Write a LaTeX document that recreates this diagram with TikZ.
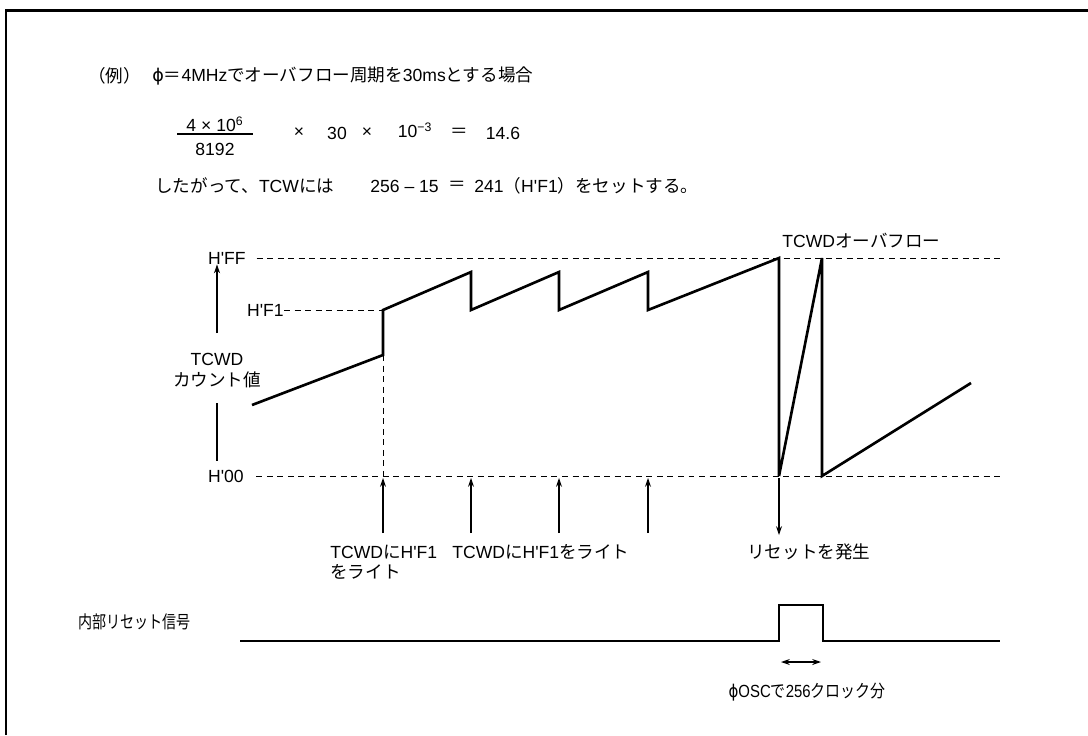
\documentclass[tikz,border=0pt]{standalone}
\usepackage{fontspec}
\usepackage{graphicx}
\setmainfont{Liberation Sans}[Ligatures=TeXOff]
\newfontfamily\jp{Noto Sans CJK JP}
\newfontfamily\dv{DejaVu Sans}
\usetikzlibrary{arrows.meta}

\tikzset{
  lbl/.style={inner sep=0pt,font=\fontsize{10}{12}\selectfont},
  guide/.style={line width=0.5pt,dash pattern=on 3.4pt off 2.6pt},
  wave/.style={line width=1.5pt,line join=miter},
  pin/.style={line width=0.6pt,-{Stealth[length=5pt,width=3.4pt]}},
}
\newcommand{\phisym}{{\dv ϕ}}

\begin{document}
\begin{tikzpicture}[x=0.02cm,y=-0.02cm]
\useasboundingbox (0,0) rectangle (1088,735);
\draw[line width=1.7pt] (6,735) -- (6,10) -- (1088,10);

\node[lbl,anchor=west] (ex) at (88,76) {\jp （例）};
\node[lbl,anchor=west] (cond) at (152,76) {\phisym{\jp ＝}4MHz{\jp でオーバフロー周期を}30ms{\jp とする場合}};
\node[lbl] (num) at (215,124) {4 × 10\textsuperscript{6}};
\node[lbl] (den) at (215,149) {8192};
\draw[line width=0.6pt] (177,134) -- (253,134);
\node[lbl] (mul1) at (299,133) {×};
\node[lbl] (thirty) at (337,133) {30};
\node[lbl] (mul2) at (367,133) {×};
\node[lbl] (milli) at (415,130) {10\textsuperscript{−3}};
\node[lbl] (eq1) at (459,133) {\jp ＝};
\node[lbl] (res) at (503,133) {14.6};
\node[lbl,anchor=west] (so) at (155,186) {{\jp したがって、}TCW{\jp には}};
\node[lbl,anchor=west] (diff) at (370,186) {256 – 15};
\node[lbl] (eq2) at (457,186) {\jp ＝};
\node[lbl,anchor=west] (set) at (474,186) {241{\jp （}H'F1{\jp ）をセットする。}};

\node[lbl,anchor=east] (ff) at (246,258) {H'FF};
\node[lbl,anchor=east] (zz) at (244,476) {H'00};
\node[lbl,anchor=east] (f1) at (284,310) {H'F1};
\coordinate (ffend) at (1003,258);
\coordinate (zzend) at (1003,476);
\coordinate (f1end) at (383,310);
\draw[guide] ([xshift=6pt]ff.east) -- (ffend);
\draw[guide] ([xshift=7pt]zz.east) -- (zzend);
\draw[guide] (f1.east) -- (f1end);
\draw[guide] (383,355) -- (383,476);

\node[lbl,align=center] (axis) at (217,371) {TCWD\\{\jp カウント値}};
\coordinate (axtop) at (217,333);
\coordinate (axbot) at (217,403);
\draw[pin] (axtop) -- (axtop |- ff.south);
\draw[line width=0.6pt] (axbot) -- (217,461);

\draw[wave] (252,405) -- (383,355) -- (383,310) -- (471,272) -- (471,310) -- (559,272) -- (559,310) -- (648,272) -- (648,310) -- (779,258) -- (779,476) -- (822,258) -- (822,476) -- (971,383);
\node[lbl,anchor=west] (ovf) at (782,241) {TCWD{\jp オーバフロー}};

\draw[pin] (383,533) -- (383,478);
\draw[pin] (471,533) -- (471,478);
\draw[pin] (559,533) -- (559,478);
\draw[pin] (648,533) -- (648,478);
\node[lbl,anchor=west] (w1a) at (330,552) {TCWD{\jp に}H'F1};
\node[lbl,anchor=west] (w1b) at (330,572) {\jp をライト};
\node[lbl,anchor=west] (w2) at (452,552) {TCWD{\jp に}H'F1{\jp をライト}};
\draw[pin] (779,478) -- (779,535);
\node[lbl,anchor=west] (rstgen) at (747,552) {\jp リセットを発生};

\node[lbl,anchor=west] (rst) at (78,622) {\scalebox{0.8}[1]{\jp 内部リセット信号}};
\draw[wave] (240,641) -- (779,641) -- (779,605) -- (823,605) -- (823,641) -- (1000,641);
\draw[line width=0.6pt,{Stealth[length=5pt,width=3.4pt]}-{Stealth[length=5pt,width=3.4pt]}] (781,662) -- (821,662);
\node[lbl] (osc) at (807,692) {\scalebox{0.85}[1]{\phisym OSC{\jp で}256{\jp クロック分}}};
\end{tikzpicture}
\end{document}
